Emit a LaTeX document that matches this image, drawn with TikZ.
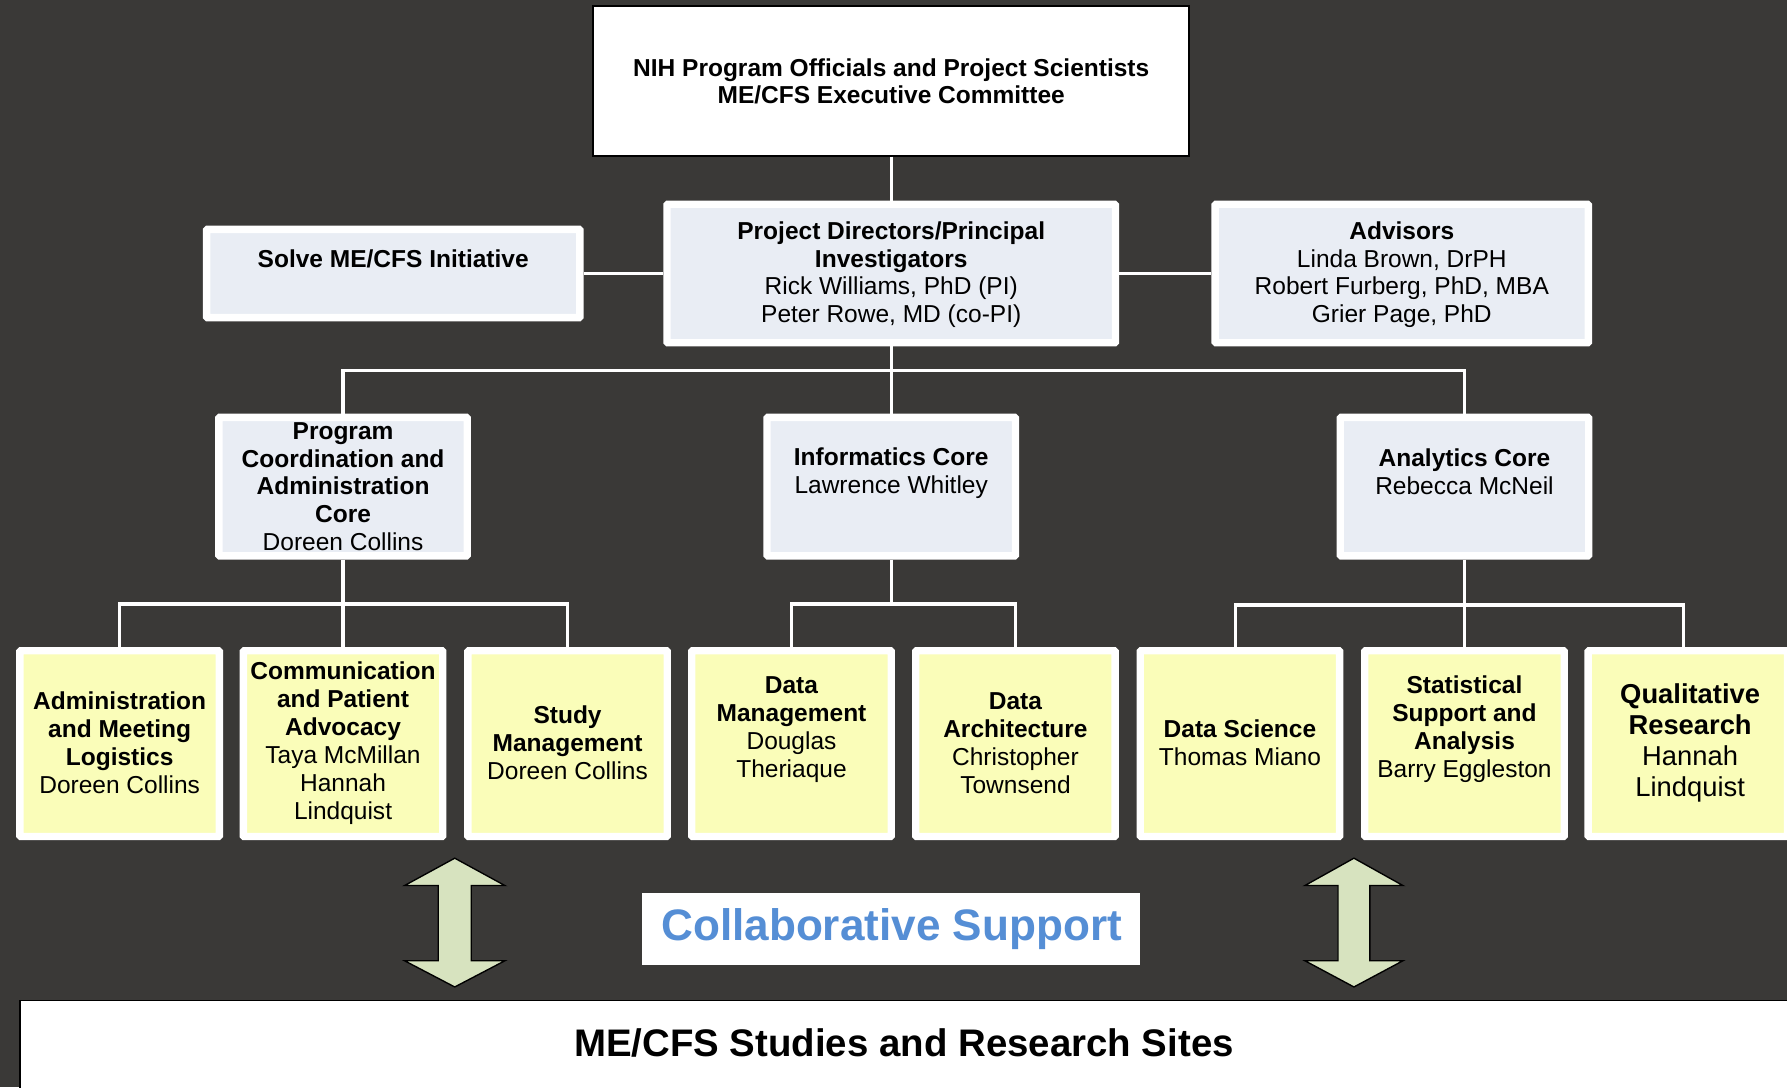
\documentclass[tikz,border=0pt]{standalone}
\usepackage{fontspec}
\setmainfont{Liberation Sans}
\definecolor{bg}{HTML}{3A3937}
\definecolor{boxblue}{HTML}{E9EDF4}
\definecolor{boxyellow}{HTML}{FAFDB9}
\definecolor{arrowgreen}{HTML}{D7E3BF}
\definecolor{collabblue}{HTML}{558ED5}
\tikzset{
  conn/.style={draw=white, line width=1.5pt},
  framebox/.style={draw=white, line width=3.25pt, rounded corners=0.4pt, inner sep=0pt},
  bluebox/.style={framebox, fill=boxblue},
  yelbox/.style={framebox, fill=boxyellow, minimum width=87.5pt, minimum height=81.5pt},
  corebox/.style={bluebox, minimum width=109pt, minimum height=60.75pt},
  plainbox/.style={draw=black, fill=white, line width=0.85pt, inner sep=0pt},
  txt/.style={align=center, inner sep=0pt, font=\fontsize{10.75}{12.25}\selectfont},
  bigarrow/.style={fill=arrowgreen, draw=black, line width=0.6pt, line join=miter},
}
\begin{document}
\begin{tikzpicture}[x=0.5pt, y=-0.5pt]
\useasboundingbox (0,0) rectangle (1568,954);
\fill[bg] (0,0) rectangle (1568,954);
\clip (0,0) rectangle (1568,954);

% ---- top box
\node[plainbox, minimum width=261.5pt, minimum height=65.5pt] (nih) at (782,71) {};
\node[txt, font=\fontsize{10.75}{12}\selectfont\bfseries] (nihT) at (782,71.5) {NIH Program Officials and Project Scientists\\ME/CFS Executive Committee};

% ---- second level
\node[bluebox, minimum width=196.75pt, minimum height=60.75pt] (pd) at (782,240) {};
\node[bluebox, minimum width=163.75pt, minimum height=38.75pt] (solve) at (345,240) {};
\node[bluebox, minimum width=163.75pt, minimum height=60.75pt] (adv) at (1230,240) {};
\node[txt] (pdT) at (782,241) {\textbf{Project Directors/Principal}\\\textbf{Investigators}\\Rick Williams, PhD (PI)\\Peter Rowe, MD (co-PI)};
\node[txt] (solveT) at (345,227) {\textbf{Solve ME/CFS Initiative}};
\node[txt] (advT) at (1230,241) {\textbf{Advisors}\\Linda Brown, DrPH\\Robert Furberg, PhD, MBA\\Grier Page, PhD};

% ---- cores
\node[corebox] (pc) at (301,427) {};
\node[corebox] (ic) at (782,427) {};
\node[corebox] (acore) at (1285,427) {};
\node[txt] (pcT) at (301,427) {\textbf{Program}\\\textbf{Coordination and}\\\textbf{Administration}\\\textbf{Core}\\Doreen Collins};
\node[txt] (icT) at (782,415) {\textbf{Informatics Core}\\Lawrence Whitley};
\node[txt] (acoreT) at (1285,414) {\textbf{Analytics Core}\\Rebecca McNeil};

% ---- bottom row
\node[yelbox] (b1) at (105,652.5) {};
\node[yelbox] (b2) at (301,652.5) {};
\node[yelbox] (b3) at (498,652.5) {};
\node[yelbox] (b4) at (694.5,652.5) {};
\node[yelbox] (b5) at (891,652.5) {};
\node[yelbox] (b6) at (1088,652.5) {};
\node[yelbox] (b7) at (1285,652.5) {};
\node[yelbox] (b8) at (1481,652.5) {};
\node[txt] (b1T) at (105,652) {\textbf{Administration}\\\textbf{and Meeting}\\\textbf{Logistics}\\Doreen Collins};
\node[txt] (b2T) at (301,652) {\textbf{Communication}\\\textbf{and Patient}\\\textbf{Advocacy}\\Taya McMillan\\Hannah\\Lindquist};
\node[txt] (b3T) at (498,652) {\textbf{Study}\\\textbf{Management}\\Doreen Collins};
\node[txt] (b4T) at (694.5,640) {\textbf{Data}\\\textbf{Management}\\Douglas\\Theriaque};
\node[txt] (b5T) at (891,652) {\textbf{Data}\\\textbf{Architecture}\\Christopher\\Townsend};
\node[txt] (b6T) at (1088,652) {\textbf{Data Science}\\Thomas Miano};
\node[txt] (b7T) at (1285,640) {\textbf{Statistical}\\\textbf{Support and}\\\textbf{Analysis}\\Barry Eggleston};
\node[txt, font=\fontsize{12}{13.65}\selectfont] (b8T) at (1483,652) {\textbf{Qualitative}\\\textbf{Research}\\Hannah\\Lindquist};

% ---- connectors
\draw[conn] (nih.south) -- (pd.north);
\draw[conn] (solve.east) -- (pd.west);
\draw[conn] (pd.east) -- (adv.west);
\coordinate (barA) at (782,325);
\draw[conn] (pd.south) -- (ic.north);
\draw[conn] (pc.north) |- (barA) -| (acore.north);
\coordinate (barB) at (301,530);
\draw[conn] (pc.south) -- (b2.north);
\draw[conn] (b1.north) |- (barB) -| (b3.north);
\coordinate (barC) at (782,530);
\draw[conn] (ic.south) -- (barC);
\draw[conn] (b4.north) |- (barC) -| (b5.north);
\coordinate (barD) at (1285,531);
\draw[conn] (acore.south) -- (b7.north);
\draw[conn] ([xshift=-2pt]b6.north) |- (barD) -| ([xshift=-2pt]b8.north);

% ---- collaborative support arrows
\draw[bigarrow] (399,753) -- (443,777) -- (413.5,777) -- (413.5,843) -- (443,843) -- (399,866) -- (355,843) -- (384.5,843) -- (384.5,777) -- (355,777) -- cycle;
\draw[bigarrow] (1188,753) -- (1231,777) -- (1202,777) -- (1202,843) -- (1231,843) -- (1188,866) -- (1145,843) -- (1174,843) -- (1174,777) -- (1145,777) -- cycle;

\node[fill=white, minimum width=218.7pt, minimum height=31.4pt, inner sep=0pt] (collab) at (781.8,815) {};
\node[font=\fontsize{19.35}{22}\selectfont\bfseries, text=collabblue, inner sep=0pt, anchor=base] (collabT) at (782.3,825.4) {Collaborative Support};

% ---- bottom box
\node[plainbox, anchor=north west, minimum width=800pt, minimum height=60pt] (sites) at (17,877) {};
\node[font=\fontsize{16.85}{20}\selectfont\bfseries, inner sep=0pt, anchor=base] (sitesT) at (793.2,927) {ME/CFS Studies and Research Sites};
\end{tikzpicture}
\end{document}
